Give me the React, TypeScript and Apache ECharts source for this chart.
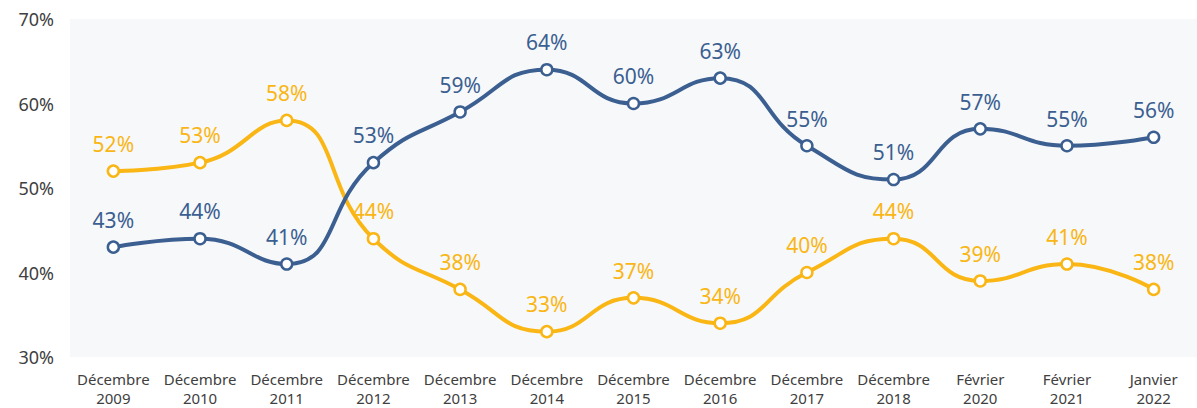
import React, { useEffect, useRef } from "react";
import * as echarts from "echarts";

const categories = [
  "Décembre\n2009", "Décembre\n2010", "Décembre\n2011", "Décembre\n2012", "Décembre\n2013",
  "Décembre\n2014", "Décembre\n2015", "Décembre\n2016", "Décembre\n2017", "Décembre\n2018",
  "Février\n2020", "Février\n2021", "Janvier\n2022",
];
const blueValues = [43, 44, 41, 53, 59, 64, 60, 63, 55, 51, 57, 55, 56];
const yellowValues = [52, 53, 58, 44, 38, 33, 37, 34, 40, 44, 39, 41, 38];

const BLUE = "#3b5f91";
const YELLOW = "#f9b614";
const FONT = "'Noto Sans', 'Open Sans', sans-serif";

export default function App() {
  const ref = useRef<HTMLDivElement>(null);
  useEffect(() => {
    if (!ref.current) return;
    const chart = echarts.init(ref.current, null, { renderer: "svg" });
    const mkSeries = (name: string, data: number[], color: string, z: number) => ({
      name,
      type: "line",
      data,
      smooth: 0.5,
      z,
      symbol: "circle",
      symbolSize: 11,
      showAllSymbol: true,
      lineStyle: { color, width: 4 },
      itemStyle: { color: "#ffffff", borderColor: color, borderWidth: 2.5 },
      label: {
        show: true,
        position: "top",
        distance: 10,
        formatter: "{c}%",
        color,
        fontSize: 21,
        fontFamily: FONT,
      },
    });
    chart.setOption({
      animation: false,
      grid: {
        left: 70,
        right: 0,
        top: 19,
        bottom: 51,
        show: true,
        backgroundColor: "#f7f8fa",
        borderWidth: 0,
      },
      xAxis: {
        type: "category",
        data: categories,
        boundaryGap: true,
        axisLine: { show: false },
        axisTick: { show: false },
        axisLabel: {
          interval: 0,
          color: "#404040",
          fontSize: 15,
          fontFamily: FONT,
          lineHeight: 19,
          margin: 12,
        },
      },
      yAxis: {
        type: "value",
        min: 30,
        max: 70,
        interval: 10,
        splitLine: { show: false },
        axisLine: { show: false },
        axisTick: { show: false },
        axisLabel: {
          formatter: "{value}%",
          color: "#404040",
          fontSize: 18,
          fontFamily: FONT,
          margin: 16,
        },
      },
      series: [
        mkSeries("Jaune", yellowValues, YELLOW, 2),
        mkSeries("Bleu", blueValues, BLUE, 3),
      ],
    });
    return () => chart.dispose();
  }, []);
  return (
    <div
      ref={ref}
      style={{ position: "fixed", left: 0, top: 0, width: 1197, height: 408, background: "#ffffff" }}
    />
  );
}
